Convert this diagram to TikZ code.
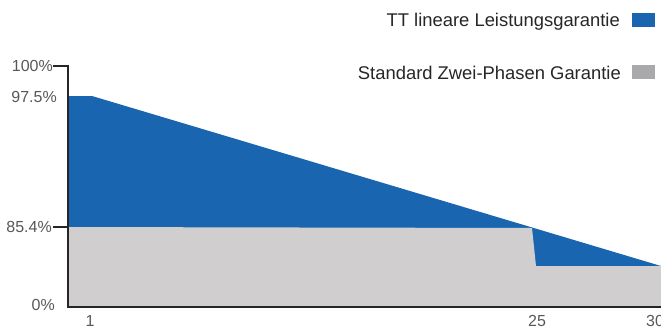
\documentclass[tikz,border=0pt]{standalone}
\usepackage{fontspec}
\setmainfont{Liberation Sans}
\definecolor{ttblue}{HTML}{1A65B0}
\definecolor{areagray}{HTML}{D0CECF}
\definecolor{keygray}{HTML}{A9A8AA}
\definecolor{labelgray}{HTML}{585858}
\definecolor{textdark}{HTML}{262626}
\tikzset{
  axislabel/.style={inner sep=0pt, text=labelgray, font=\fontsize{16}{19}\selectfont},
  keylabel/.style={inner sep=0pt, anchor=base east, text=textdark, font=\fontsize{18.4}{22}\selectfont},
  axisline/.style={line width=1.6pt, color=black!85}
}
\begin{document}
\begin{tikzpicture}[x=1pt,y=-1pt]
    \useasboundingbox (0,0) rectangle (661,329);
    % areas
    \fill[ttblue] (68,96) -- (92,96) -- (661,266) -- (661,307) -- (68,307) -- cycle;
    \fill[areagray] (68,227) -- (532,228) -- (536,266) -- (661,266) -- (661,307) -- (68,307) -- cycle;

    % axes
    \draw[axisline] (53,66) -- (68,66) -- (68,307) -- (661,307);
    \draw[axisline] (53,227) -- (68,227);

    \node[axislabel, anchor=east] (p100) at (53,66) {100\%};
    \node[axislabel, anchor=east] (p975) at (57,97) {97.5\%};
    \node[axislabel, anchor=east] (p854) at (52,227) {85.4\%};
    \node[axislabel, anchor=east] (p0) at (55,305) {0\%};
    \node[axislabel] (y1) at (90,321) {1};
    \node[axislabel] (y25) at (537,321) {25};
    \node[axislabel] (y30) at (655,321) {30};

    % legend
    \node[keylabel] (keytt) at (620,27) {TT lineare Leistungsgarantie};
    \fill[ttblue] (632,13) rectangle (655,27);
    \node[keylabel] (keystd) at (621,79) {Standard Zwei-Phasen Garantie};
    \fill[keygray] (632,65) rectangle (655,79);
\end{tikzpicture}
\end{document}
